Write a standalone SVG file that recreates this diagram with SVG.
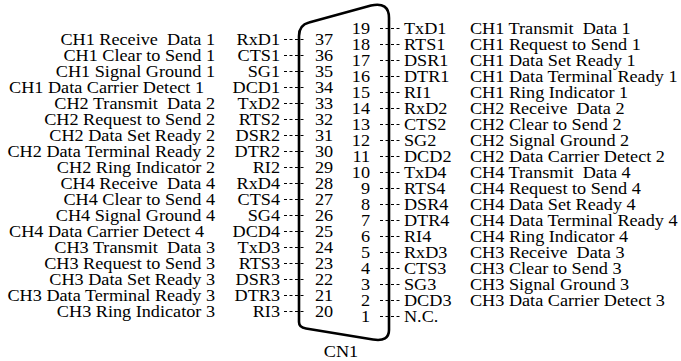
<svg xmlns="http://www.w3.org/2000/svg" width="681" height="361" viewBox="0 0 681 361">
<style>
text{font-family:"Liberation Serif","Times New Roman",serif;font-size:18.2px;fill:#000;white-space:pre}
.e{text-anchor:end}
.dash{stroke:#000;stroke-width:1;stroke-dasharray:3,2.5;fill:none}
.body{stroke:#000;stroke-width:2.6;fill:none;stroke-linejoin:round}
</style>
<rect width="681" height="361" fill="#fff"/>
<g id="CN1">
<path class="body" d="M299,322 L299,36 Q299,25 309,22.5 L371,5.5 Q389,1.5 389,18 L389,330 Q389,342 373,339.5 L306,328.5 Q299,327.5 299,322 Z"/>
<g transform="translate(0,357) scale(1,0.87)"><text x="341" y="0" text-anchor="middle">CN1</text></g>
</g>
<g id="connectors">
<path class="dash" d="M284,39.5H306M284,55.5H306M284,71.5H306M284,87.5H306M284,103.5H306M284,119.5H306M284,135.5H306M284,151.5H306M284,167.5H306M284,183.5H306M284,199.5H306M284,215.5H306M284,231.5H306M284,247.5H306M284,263.5H306M284,279.5H306M284,295.5H306M284,311.5H306"/>
<path class="dash" d="M380,28.5H402M380,44.5H402M380,60.5H402M380,76.5H402M380,92.5H402M380,108.5H402M380,124.5H402M380,140.5H402M380,156.5H402M380,172.5H402M380,188.5H402M380,204.5H402M380,220.5H402M380,236.5H402M380,252.5H402M380,268.5H402M380,284.5H402M380,300.5H402M380,316.5H402"/>
</g>
<g id="pin37" transform="translate(0,44.8) scale(1,0.87)"><text x="315" y="0">37</text><text class="e" x="280" y="0">RxD1</text><text class="e" x="215" y="0">CH1 Receive  Data 1</text></g>
<g id="pin36" transform="translate(0,60.8) scale(1,0.87)"><text x="315" y="0">36</text><text class="e" x="280" y="0">CTS1</text><text class="e" x="215" y="0">CH1 Clear to Send 1</text></g>
<g id="pin35" transform="translate(0,76.8) scale(1,0.87)"><text x="315" y="0">35</text><text class="e" x="280" y="0">SG1</text><text class="e" x="215" y="0">CH1 Signal Ground 1</text></g>
<g id="pin34" transform="translate(0,92.8) scale(1,0.87)"><text x="315" y="0">34</text><text class="e" x="280" y="0">DCD1</text><text class="e" x="204" y="0">CH1 Data Carrier Detect 1</text></g>
<g id="pin33" transform="translate(0,108.8) scale(1,0.87)"><text x="315" y="0">33</text><text class="e" x="280" y="0">TxD2</text><text class="e" x="215" y="0">CH2 Transmit  Data 2</text></g>
<g id="pin32" transform="translate(0,124.8) scale(1,0.87)"><text x="315" y="0">32</text><text class="e" x="280" y="0">RTS2</text><text class="e" x="215" y="0">CH2 Request to Send 2</text></g>
<g id="pin31" transform="translate(0,140.8) scale(1,0.87)"><text x="315" y="0">31</text><text class="e" x="280" y="0">DSR2</text><text class="e" x="215" y="0">CH2 Data Set Ready 2</text></g>
<g id="pin30" transform="translate(0,156.8) scale(1,0.87)"><text x="315" y="0">30</text><text class="e" x="280" y="0">DTR2</text><text class="e" x="215" y="0">CH2 Data Terminal Ready 2</text></g>
<g id="pin29" transform="translate(0,172.8) scale(1,0.87)"><text x="315" y="0">29</text><text class="e" x="280" y="0">RI2</text><text class="e" x="215" y="0">CH2 Ring Indicator 2</text></g>
<g id="pin28" transform="translate(0,188.8) scale(1,0.87)"><text x="315" y="0">28</text><text class="e" x="280" y="0">RxD4</text><text class="e" x="215" y="0">CH4 Receive  Data 4</text></g>
<g id="pin27" transform="translate(0,204.8) scale(1,0.87)"><text x="315" y="0">27</text><text class="e" x="280" y="0">CTS4</text><text class="e" x="215" y="0">CH4 Clear to Send 4</text></g>
<g id="pin26" transform="translate(0,220.8) scale(1,0.87)"><text x="315" y="0">26</text><text class="e" x="280" y="0">SG4</text><text class="e" x="215" y="0">CH4 Signal Ground 4</text></g>
<g id="pin25" transform="translate(0,236.8) scale(1,0.87)"><text x="315" y="0">25</text><text class="e" x="280" y="0">DCD4</text><text class="e" x="204" y="0">CH4 Data Carrier Detect 4</text></g>
<g id="pin24" transform="translate(0,252.8) scale(1,0.87)"><text x="315" y="0">24</text><text class="e" x="280" y="0">TxD3</text><text class="e" x="215" y="0">CH3 Transmit  Data 3</text></g>
<g id="pin23" transform="translate(0,268.8) scale(1,0.87)"><text x="315" y="0">23</text><text class="e" x="280" y="0">RTS3</text><text class="e" x="215" y="0">CH3 Request to Send 3</text></g>
<g id="pin22" transform="translate(0,284.8) scale(1,0.87)"><text x="315" y="0">22</text><text class="e" x="280" y="0">DSR3</text><text class="e" x="215" y="0">CH3 Data Set Ready 3</text></g>
<g id="pin21" transform="translate(0,300.8) scale(1,0.87)"><text x="315" y="0">21</text><text class="e" x="280" y="0">DTR3</text><text class="e" x="215" y="0">CH3 Data Terminal Ready 3</text></g>
<g id="pin20" transform="translate(0,316.8) scale(1,0.87)"><text x="315" y="0">20</text><text class="e" x="280" y="0">RI3</text><text class="e" x="215" y="0">CH3 Ring Indicator 3</text></g>
<g id="pin19" transform="translate(0,33.8) scale(1,0.87)"><text class="e" x="370" y="0">19</text><text x="404" y="0">TxD1</text><text x="470" y="0">CH1 Transmit  Data 1</text></g>
<g id="pin18" transform="translate(0,49.8) scale(1,0.87)"><text class="e" x="370" y="0">18</text><text x="404" y="0">RTS1</text><text x="470" y="0">CH1 Request to Send 1</text></g>
<g id="pin17" transform="translate(0,65.8) scale(1,0.87)"><text class="e" x="370" y="0">17</text><text x="404" y="0">DSR1</text><text x="470" y="0">CH1 Data Set Ready 1</text></g>
<g id="pin16" transform="translate(0,81.8) scale(1,0.87)"><text class="e" x="370" y="0">16</text><text x="404" y="0">DTR1</text><text x="470" y="0">CH1 Data Terminal Ready 1</text></g>
<g id="pin15" transform="translate(0,97.8) scale(1,0.87)"><text class="e" x="370" y="0">15</text><text x="404" y="0">RI1</text><text x="470" y="0">CH1 Ring Indicator 1</text></g>
<g id="pin14" transform="translate(0,113.8) scale(1,0.87)"><text class="e" x="370" y="0">14</text><text x="404" y="0">RxD2</text><text x="470" y="0">CH2 Receive  Data 2</text></g>
<g id="pin13" transform="translate(0,129.8) scale(1,0.87)"><text class="e" x="370" y="0">13</text><text x="404" y="0">CTS2</text><text x="470" y="0">CH2 Clear to Send 2</text></g>
<g id="pin12" transform="translate(0,145.8) scale(1,0.87)"><text class="e" x="370" y="0">12</text><text x="404" y="0">SG2</text><text x="470" y="0">CH2 Signal Ground 2</text></g>
<g id="pin11" transform="translate(0,161.8) scale(1,0.87)"><text class="e" x="370" y="0">11</text><text x="404" y="0">DCD2</text><text x="470" y="0">CH2 Data Carrier Detect 2</text></g>
<g id="pin10" transform="translate(0,177.8) scale(1,0.87)"><text class="e" x="370" y="0">10</text><text x="404" y="0">TxD4</text><text x="470" y="0">CH4 Transmit  Data 4</text></g>
<g id="pin9" transform="translate(0,193.8) scale(1,0.87)"><text class="e" x="370" y="0">9</text><text x="404" y="0">RTS4</text><text x="470" y="0">CH4 Request to Send 4</text></g>
<g id="pin8" transform="translate(0,209.8) scale(1,0.87)"><text class="e" x="370" y="0">8</text><text x="404" y="0">DSR4</text><text x="470" y="0">CH4 Data Set Ready 4</text></g>
<g id="pin7" transform="translate(0,225.8) scale(1,0.87)"><text class="e" x="370" y="0">7</text><text x="404" y="0">DTR4</text><text x="470" y="0">CH4 Data Terminal Ready 4</text></g>
<g id="pin6" transform="translate(0,241.8) scale(1,0.87)"><text class="e" x="370" y="0">6</text><text x="404" y="0">RI4</text><text x="470" y="0">CH4 Ring Indicator 4</text></g>
<g id="pin5" transform="translate(0,257.8) scale(1,0.87)"><text class="e" x="370" y="0">5</text><text x="404" y="0">RxD3</text><text x="470" y="0">CH3 Receive  Data 3</text></g>
<g id="pin4" transform="translate(0,273.8) scale(1,0.87)"><text class="e" x="370" y="0">4</text><text x="404" y="0">CTS3</text><text x="470" y="0">CH3 Clear to Send 3</text></g>
<g id="pin3" transform="translate(0,289.8) scale(1,0.87)"><text class="e" x="370" y="0">3</text><text x="404" y="0">SG3</text><text x="470" y="0">CH3 Signal Ground 3</text></g>
<g id="pin2" transform="translate(0,305.8) scale(1,0.87)"><text class="e" x="370" y="0">2</text><text x="404" y="0">DCD3</text><text x="470" y="0">CH3 Data Carrier Detect 3</text></g>
<g id="pin1" transform="translate(0,321.8) scale(1,0.87)"><text class="e" x="370" y="0">1</text><text x="404" y="0">N.C.</text></g>
</svg>
